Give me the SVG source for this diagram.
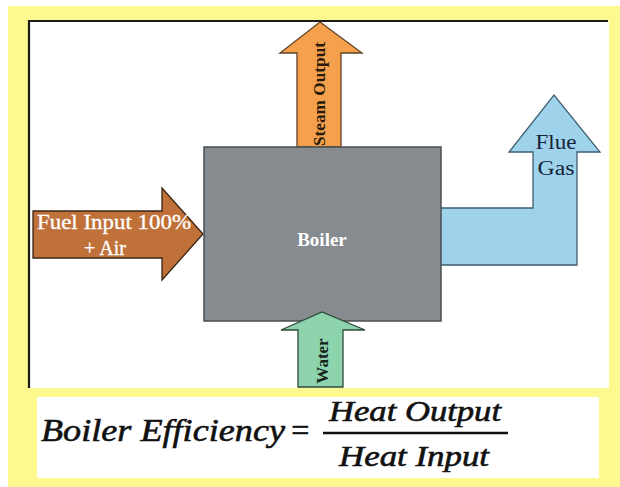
<svg xmlns="http://www.w3.org/2000/svg" width="620" height="487" viewBox="0 0 620 487">
<style>
.arrow{stroke-width:1.3;stroke-linejoin:miter}
.lbl{font-family:"Liberation Serif","DejaVu Serif",serif}
.eq{font-family:"Liberation Serif","DejaVu Serif",serif;font-style:italic;fill:#111;stroke:#111;stroke-width:0.6}
</style>
<rect x="0" y="0" width="620" height="487" fill="#ffffff"/>
<rect x="8" y="6" width="612" height="481" fill="#fdf98f"/>
<rect x="29" y="21" width="580" height="367" fill="#ffffff"/>
<path d="M29 388 V21 H608" fill="none" stroke="#1a1a1a" stroke-width="2.2"/>
<rect x="37" y="397" width="562" height="81" fill="#ffffff"/>

<g id="connectors">
  <g id="steam-output">
    <polygon class="arrow" points="297,147 297,53 280,53 320,22 362,53 341,53 341,147" fill="#f5a04c" stroke="#5e4326"/>
    <text class="lbl" transform="translate(325,94) rotate(-90)" text-anchor="middle" font-size="17" font-weight="bold" fill="#2a1a0a" textLength="104" lengthAdjust="spacingAndGlyphs">Steam Output</text>
  </g>
  <g id="fuel-input">
    <polygon class="arrow" points="33,211 162,211 162,188 203,234 162,280 162,258 33,258" fill="#c0713a" stroke="#3a2414"/>
    <text class="lbl" x="114" y="229" text-anchor="middle" font-size="20" fill="#ffffff" stroke="#ffffff" stroke-width="0.3" textLength="154" lengthAdjust="spacingAndGlyphs">Fuel Input 100%</text>
    <text class="lbl" x="105" y="255" text-anchor="middle" font-size="20" fill="#ffffff" stroke="#ffffff" stroke-width="0.3">+ Air</text>
  </g>
  <g id="flue-gas">
    <polygon class="arrow" points="436,208 533,208 533,152 509,152 554,95 600,152 577,152 577,265 436,265" fill="#9fd3ec" stroke="#3f5f70"/>
    <text class="lbl" x="556" y="149" text-anchor="middle" font-size="20" fill="#15233a" textLength="41" lengthAdjust="spacingAndGlyphs">Flue</text>
    <text class="lbl" x="556" y="175" text-anchor="middle" font-size="20" fill="#15233a" textLength="37" lengthAdjust="spacingAndGlyphs">Gas</text>
  </g>
</g>

<g id="boiler">
  <rect x="204" y="147" width="237" height="174" fill="#858b8f" stroke="#4a4f53" stroke-width="1.5"/>
  <text class="lbl" x="322" y="246" text-anchor="middle" font-size="19" font-weight="bold" fill="#ffffff">Boiler</text>
</g>

<g id="water">
  <polygon class="arrow" points="298,387 298,330 281,330 322,312 365,330 343,330 343,387" fill="#8dd4ae" stroke="#2f4a3a"/>
  <text class="lbl" transform="translate(328,361) rotate(-90)" text-anchor="middle" font-size="17" font-weight="bold" fill="#14241a">Water</text>
</g>

<g id="formula">
  <text class="eq" x="41" y="441" font-size="32" textLength="244" lengthAdjust="spacingAndGlyphs">Boiler Efficiency</text>
  <text class="eq" x="300" y="441" font-size="32" text-anchor="middle" font-style="normal">=</text>
  <text class="eq" x="415" y="421" font-size="29" text-anchor="middle" textLength="172" lengthAdjust="spacingAndGlyphs">Heat Output</text>
  <line x1="323" y1="433" x2="508" y2="433" stroke="#111" stroke-width="2.5"/>
  <text class="eq" x="414" y="466" font-size="29" text-anchor="middle" textLength="150" lengthAdjust="spacingAndGlyphs">Heat Input</text>
</g>
</svg>
